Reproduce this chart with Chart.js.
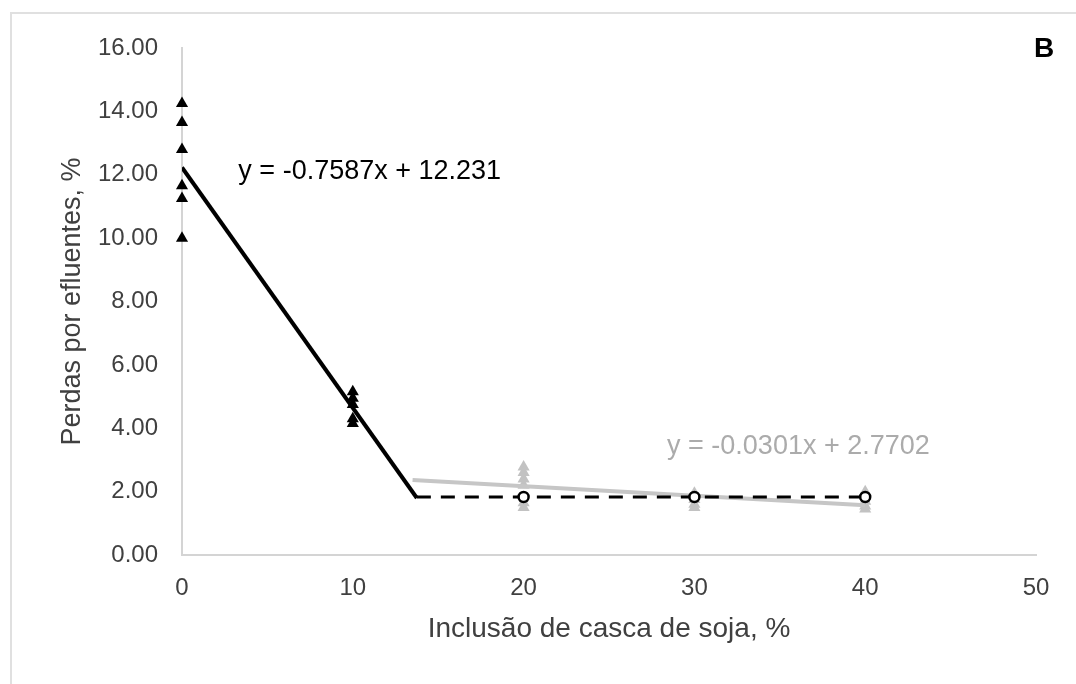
<!DOCTYPE html>
<html>
<head>
<meta charset="utf-8">
<script src="https://cdn.jsdelivr.net/npm/chart.js@4"></script>
<style>
  html, body { margin: 0; padding: 0; background: #ffffff; }
  #wrap { position: relative; width: 1076px; height: 684px; overflow: hidden; }
  #frame { position: absolute; left: 10px; top: 12px; width: 1200px; height: 800px;
           border: 2px solid #e0e0e0; pointer-events: none; }
  canvas { position: absolute; left: 0; top: 0; }
</style>
</head>
<body>
<div id="wrap">
  <canvas id="c" width="1076" height="684"></canvas>
  <div id="frame"></div>
</div>
<script>
// Soy hull inclusion levels and observed effluent losses
const levelsHigh = [0, 0, 0, 0, 0, 0, 10, 10, 10, 10, 10];
const lossesHigh = [14.25, 13.65, 12.8, 11.65, 11.25, 10.0, 5.15, 4.95, 4.75, 4.3, 4.15];

const levelsLow = [20, 20, 20, 20, 20, 20, 30, 30, 30, 30, 30, 40, 40, 40, 40, 40];
const lossesLow = [2.78, 2.6, 2.4, 2.2, 1.65, 1.5, 1.95, 1.85, 1.75, 1.6, 1.5, 2.0, 1.85, 1.7, 1.55, 1.45];

// Plateau means
const plateauLevels = [20, 30, 40];
const plateauMeans = [1.83, 1.83, 1.83];

// Broken-line fit: descending segment, then plateau
const fitSlope = -0.7587;
const fitIntercept = 12.231;
const breakPoint = 13.75;
const plateauValue = 1.83;
const plateauEnd = 40;

// Linear trend over the low-loss treatments
const trendSlope = -0.0301;
const trendIntercept = 2.7702;
const trendRange = [13.5, 40];

const xTicks = [0, 10, 20, 30, 40, 50];
const yTicks = [0, 2, 4, 6, 8, 10, 12, 14, 16];

const eqHigh = 'y = -0.7587x + 12.231';
const eqLow = 'y = -0.0301x + 2.7702';
const panelLabel = 'B';

const pts = (xs, ys) => xs.map((x, i) => ({ x: x, y: ys[i] }));
const fitLine = [
  { x: 0, y: fitIntercept },
  { x: breakPoint, y: fitIntercept + fitSlope * breakPoint }
];
const plateauLine = [
  { x: breakPoint, y: plateauValue },
  { x: plateauEnd, y: plateauValue }
];
const trendLine = trendRange.map(x => ({ x: x, y: trendIntercept + trendSlope * x }));

const FONT = "'Liberation Sans', Arial, sans-serif";

const annotations = {
  id: 'annotations',
  afterDatasetsDraw(chart) {
    const { ctx, scales: { x, y } } = chart;
    ctx.save();
    ctx.textBaseline = 'middle';
    ctx.textAlign = 'left';
    ctx.font = '27px ' + FONT;
    ctx.fillStyle = '#000000';
    ctx.fillText(eqHigh, x.getPixelForValue(3.3), y.getPixelForValue(12.09));
    ctx.fillStyle = '#ababab';
    ctx.fillText(eqLow, x.getPixelForValue(28.4), y.getPixelForValue(3.41));
    ctx.fillStyle = '#000000';
    ctx.font = 'bold 28px ' + FONT;
    ctx.textAlign = 'center';
    ctx.fillText(panelLabel, 1044, 49);
    ctx.restore();
  }
};

new Chart(document.getElementById('c'), {
  type: 'scatter',
  data: {
    datasets: [
      {
        label: 'Médias',
        data: pts(plateauLevels, plateauMeans),
        pointStyle: 'circle',
        pointRadius: 5,
        backgroundColor: '#ffffff',
        borderColor: '#000000',
        borderWidth: 2.5,
        clip: false
      },
      {
        label: '0-10%',
        data: pts(levelsHigh, lossesHigh),
        pointStyle: 'triangle',
        pointRadius: 7,
        backgroundColor: '#000000',
        borderColor: '#000000',
        borderWidth: 0,
        clip: false
      },
      {
        label: 'Ajuste',
        type: 'line',
        data: fitLine,
        borderColor: '#000000',
        borderWidth: 4,
        pointRadius: 0,
        fill: false
      },
      {
        label: 'Platô',
        type: 'line',
        data: plateauLine,
        borderColor: '#000000',
        borderWidth: 3,
        borderDash: [14, 10],
        pointRadius: 0,
        fill: false
      },
      {
        label: 'Tendência',
        type: 'line',
        data: trendLine,
        borderColor: '#c6c6c6',
        borderWidth: 4,
        pointRadius: 0,
        fill: false
      },
      {
        label: '20-40%',
        data: pts(levelsLow, lossesLow),
        pointStyle: 'triangle',
        pointRadius: 7,
        backgroundColor: '#c2c2c2',
        borderColor: '#c2c2c2',
        borderWidth: 0,
        clip: false
      }
    ]
  },
  options: {
    responsive: false,
    animation: false,
    devicePixelRatio: 1,
    layout: { padding: { left: 52, top: 48, right: 40, bottom: 34 } },
    plugins: {
      legend: { display: false },
      tooltip: { enabled: false }
    },
    scales: {
      x: {
        type: 'linear',
        min: 0,
        max: 50,
        afterBuildTicks: s => { s.ticks = xTicks.map(v => ({ value: v })); },
        afterFit: s => { s.height = 95; },
        grid: { display: false, drawTicks: false },
        border: { display: true, color: '#d4d4d4', width: 2 },
        ticks: {
          padding: 19,
          color: '#404040',
          font: { family: FONT, size: 24 },
          maxRotation: 0
        },
        title: {
          display: true,
          text: 'Inclusão de casca de soja, %',
          color: '#404040',
          font: { family: FONT, size: 28 }
        }
      },
      y: {
        type: 'linear',
        min: 0,
        max: 16,
        afterBuildTicks: s => { s.ticks = yTicks.map(v => ({ value: v })); },
        afterFit: s => { s.width = 130; },
        grid: { display: false, drawTicks: false },
        border: { display: true, color: '#d4d4d4', width: 2 },
        ticks: {
          padding: 24,
          color: '#404040',
          font: { family: FONT, size: 24 },
          callback: v => v.toFixed(2)
        },
        title: {
          display: true,
          text: 'Perdas por efluentes, %',
          color: '#404040',
          font: { family: FONT, size: 27 }
        }
      }
    }
  },
  plugins: [annotations]
});
</script>
</body>
</html>
